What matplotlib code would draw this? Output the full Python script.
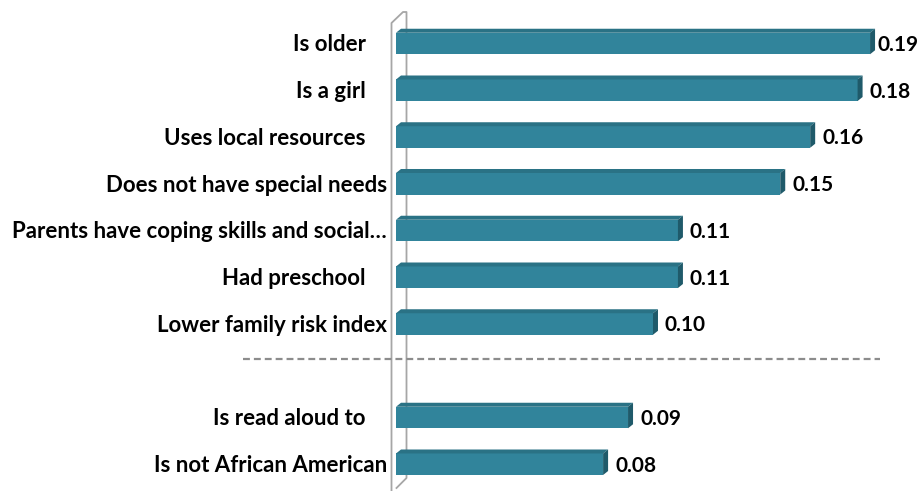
import matplotlib.pyplot as plt
import matplotlib.transforms as mtransforms
from matplotlib.patches import Polygon
from matplotlib.lines import Line2D

# Data
top_labels = ['Is older    ', 'Is a girl    ', 'Uses local resources    ',
              'Does not have special needs', 'Parents have coping skills and social…',
              'Had preschool    ', 'Lower family risk index']
top_values = [0.190, 0.185, 0.166, 0.154, 0.113, 0.113, 0.103]
top_text = ['0.19', '0.18', '0.16', '0.15', '0.11', '0.11', '0.10']

bottom_labels = ['Is read aloud to    ', 'Is not African American']
bottom_values = [0.093, 0.083]
bottom_text = ['0.09', '0.08']

W, H = 922, 491
FRONT = '#31849B'
TOPC = '#2A7285'
SIDE = '#1F5A6A'
FONT = 'Lato'

fig = plt.figure(figsize=(W / 100, H / 100), dpi=100)
fig.patch.set_facecolor('white')

def fx(x):
    return x / W

def fy(y):
    return 1 - y / H

# axes: left edge of bars at 396 px, full height
ax = fig.add_axes([fx(396), 0, 1 - fx(396), 1])
ax.patch.set_visible(False)
px_per_unit = 2495.0
row_px = 46.75
ax.set_xlim(0, (W - 396) / px_per_unit)
ax.set_ylim((H - 43.5) / row_px, -43.5 / row_px)
ax.axis('off')

labels = top_labels + bottom_labels
values = top_values + bottom_values
texts = top_text + bottom_text
rows = list(range(len(top_values))) + [len(top_values) + 1 + i for i in range(len(bottom_values))]

h = 0.46
dx = 5 / px_per_unit
dy = 4 / row_px

ax.barh(rows, values, height=h, color=FRONT, edgecolor='none', zorder=3)
for r, v in zip(rows, values):
    t, b = r - h / 2, r + h / 2
    ax.add_patch(Polygon([(0, t), (v, t), (v + dx, t - dy), (dx, t - dy)],
                         closed=True, facecolor=TOPC, edgecolor='none', zorder=3))
    ax.add_patch(Polygon([(v, t), (v + dx, t - dy), (v + dx, b - dy), (v, b)],
                         closed=True, facecolor=SIDE, edgecolor='none', zorder=3))

# value labels
lim = (877 - 396) / px_per_unit
for r, v, s in zip(rows, values, texts):
    x = min(v + dx + 7 / px_per_unit, lim)
    ax.text(x, r + 0.03, s, ha='left', va='center', fontsize=15, fontweight='bold',
            family=FONT, color='black', zorder=5, clip_on=False)

# category labels
trans = mtransforms.blended_transform_factory(fig.transFigure, ax.transData)
for r, lab in zip(rows, labels):
    ax.text(fx(387), r + 0.03, lab, transform=trans,
            ha='right', va='center', fontsize=16, fontweight='bold', family=FONT, color='black')

# 3d wall
wall = '#A6A6A6'
fig.add_artist(Line2D([fx(391.5), fx(391.5), fx(403), fx(406.5), fx(406.5), fx(396.5)],
                      [fy(491), fy(23), fy(12), fy(12), fy(478), fy(488)],
                      color=wall, lw=1.3, zorder=-1))

# dashed separator
sep = 6.755
ax.plot([(243 - 396) / px_per_unit, (880 - 396) / px_per_unit], [sep, sep],
        color='#8C8C8C', lw=1.6, dashes=(3.1, 1.8), clip_on=False, zorder=4)

fig.savefig('out.png', dpi=100, facecolor='white')
